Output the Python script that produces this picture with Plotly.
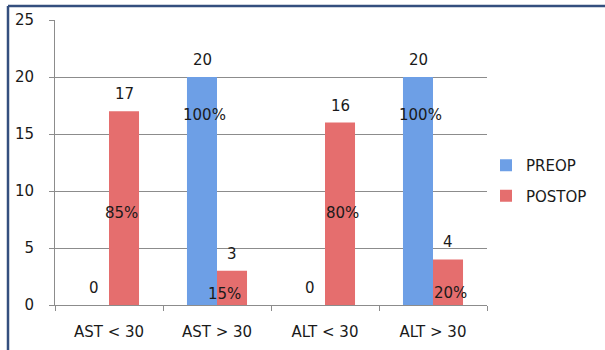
import plotly.graph_objects as go

categories = ["AST < 30", "AST > 30", "ALT < 30", "ALT > 30"]
preop = [0, 20, 0, 20]
postop = [17, 3, 16, 4]
preop_pct = ["", "100%", "", "100%"]
postop_pct = ["85%", "15%", "80%", "20%"]
y_ticks = [0, 5, 10, 15, 20, 25]

FONT = "DejaVu Sans, Verdana, sans-serif"
FS = 15
TXT = "#1a1a1a"
PRE_COLOR = "#6D9FE6"
POST_COLOR = "#E56E6E"

fig = go.Figure()
fig.add_trace(go.Bar(name="PREOP", x=categories, y=preop, marker=dict(color=PRE_COLOR, line=dict(width=0)),
                     legendgroup="a"))
fig.add_trace(go.Bar(name="POSTOP", x=categories, y=postop, marker=dict(color=POST_COLOR, line=dict(width=0)),
                     legendgroup="b"))

annotations = []
# value labels above bars
for cat, v in zip(categories, preop):
    annotations.append(dict(x=cat, y=v, xref="x", yref="y", text=str(v), showarrow=False,
                            xshift=-15, yshift=17, font=dict(family=FONT, size=FS, color=TXT)))
for cat, v in zip(categories, postop):
    annotations.append(dict(x=cat, y=v, xref="x", yref="y", text=str(v), showarrow=False,
                            xshift=15, yshift=17, font=dict(family=FONT, size=FS, color=TXT)))

# percentage labels (placement as in the original)
pre_pct_pos = [(0, 0), (-13, 16.7), (0, 0), (-13, 16.7)]
post_pct_pos = [(12, 8.07), (7, 0.97), (17, 8.07), (17, 1.05)]
for cat, t, (dx, yy) in zip(categories, preop_pct, pre_pct_pos):
    if t:
        annotations.append(dict(x=cat, y=yy, xref="x", yref="y", text=t, showarrow=False,
                                xshift=dx, font=dict(family=FONT, size=FS, color=TXT)))
for cat, t, (dx, yy) in zip(categories, postop_pct, post_pct_pos):
    if t:
        annotations.append(dict(x=cat, y=yy, xref="x", yref="y", text=t, showarrow=False,
                                xshift=dx, font=dict(family=FONT, size=FS, color=TXT)))

# outer frame (left and top edges)
W, H = 432.0, 285.0
L, T = 55.0, 20.0
def px(xp):
    return (xp - L) / W
def py(yp):
    return (T + H - yp) / H
border = "#344F7E"
shapes = [
    dict(type="line", xref="paper", yref="paper", x0=px(8), x1=px(608), y0=py(6), y1=py(6),
         line=dict(color=border, width=2.5)),
    dict(type="line", xref="paper", yref="paper", x0=px(8), x1=px(8), y0=py(6), y1=py(352),
         line=dict(color=border, width=2.5)),
]

fig.update_layout(
    width=605, height=350,
    margin=dict(l=55, r=118, t=20, b=45),
    paper_bgcolor="white", plot_bgcolor="white",
    barmode="group", bargap=0.444, bargroupgap=0,
    font=dict(family=FONT, size=FS, color=TXT),
    showlegend=True,
    legend=dict(x=px(486), y=py(149), xanchor="left", yanchor="top",
                font=dict(family=FONT, size=15, color=TXT), tracegroupgap=8,
                itemwidth=30, bgcolor="rgba(0,0,0,0)", borderwidth=0),
    annotations=annotations,
    shapes=shapes,
)
fig.update_xaxes(type="category", showline=True, linecolor="#8C8C8C", linewidth=1,
                 ticks="outside", tickson="boundaries", ticklen=5, tickcolor="#8C8C8C",
                 showgrid=False, tickfont=dict(family=FONT, size=FS, color=TXT),
                 ticklabelstandoff=13, automargin=False)
fig.update_yaxes(range=[0, 25], tickvals=y_ticks, showline=True, linecolor="#8C8C8C", linewidth=1,
                 ticks="outside", ticklen=5, tickcolor="#8C8C8C",
                 showgrid=True, gridcolor="#8C8C8C", gridwidth=1, zeroline=False,
                 tickfont=dict(family=FONT, size=FS, color=TXT), ticklabelstandoff=12,
                 automargin=False)

fig.write_html("out.html")
